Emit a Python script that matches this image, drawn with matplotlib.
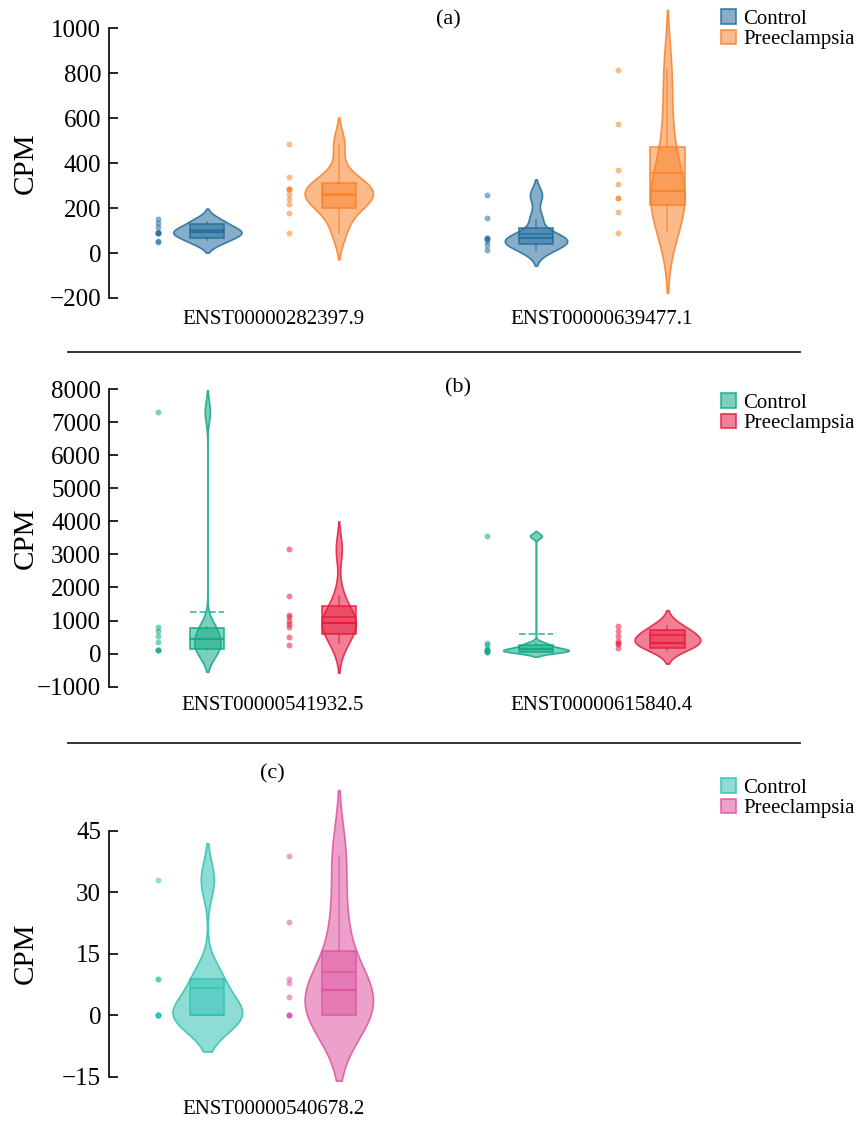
import matplotlib
matplotlib.use("Agg")
import matplotlib.pyplot as plt
import numpy as np
from matplotlib import mlab
from matplotlib.colors import to_rgba
from matplotlib.lines import Line2D
from matplotlib.patches import Patch
from matplotlib.transforms import blended_transform_factory

plt.rcParams["font.family"] = ["Liberation Serif", "DejaVu Serif"]

groups = ["Control", "Preeclampsia"]

# --- data (CPM) ---
# order inside each panel: tx1 control, tx1 PE, tx2 control, tx2 PE
a_transcripts = ["ENST00000282397.9", "ENST00000639477.1"]
a_points = [
    [50, 52, 88, 88, 90, 92, 114, 132, 150],
    [90, 180, 218, 239, 263, 284, 284, 286, 337, 485],
    [13, 36, 53, 62, 65, 68, 154, 258],
    [90, 181, 244, 246, 306, 370, 573, 815],
]
# q1, median, q3, mean, lower whisker, upper whisker
a_box = [(68, 92, 128, 104, 58, 140), (199, 258, 310, 262, 90, 481),
         (40, 68, 110, 83, 13, 147), (214, 277, 474, 355, 95, 815)]
a_ticks = [-200, 0, 200, 400, 600, 800, 1000]

b_transcripts = ["ENST00000541932.5", "ENST00000615840.4"]
b_points = [
    [100, 110, 110, 360, 541, 683, 814, 7315],
    [260, 500, 800, 900, 1000, 1100, 1167, 1750, 3160],
    [58, 62, 80, 100, 120, 150, 250, 311, 3556],
    [178, 290, 330, 390, 532, 683, 834],
]
b_box = [(140, 433, 765, 1267, 100, 814), (593, 934, 1440, 1116, 320, 1750),
         (58, 150, 260, 583, 58, 311), (178, 330, 714, 562, 109, 834)]
b_ticks = [-1000, 0, 1000, 2000, 3000, 4000, 5000, 6000, 7000, 8000]

c_transcripts = ["ENST00000540678.2"]
c_points = [
    [0, 0, 0, 0, 0, 8.7, 8.7, 33],
    [0, 0, 0, 4.3, 7.7, 8.8, 22.8, 38.8],
]
c_box = [(0, 0, 8.7, 6.5, 0, 8.7), (0, 6.1, 15.7, 10.4, 0, 38.8)]
c_ticks = [-15, 0, 15, 30, 45]

# --- styling ---
a_colors = ["#236c9d", "#f9822a"]
b_colors = ["#10a985", "#e8193c"]
c_colors = ["#30c2b2", "#de53a0"]
a_bw = [24, 59, 35, 134]
b_bw = [325, 420, 75, 240]
c_bw = [4.45, 8]
a_halfw = [0.104, 0.104, 0.095, 0.052]
b_halfw = [0.04, 0.052, 0.10, 0.10]
c_halfw = [0.106, 0.104]

W, H = 859, 1121
fig = plt.figure(figsize=(W / 100, H / 100), dpi=100)
left, width = 108.75 / W, 657.25 / W


def draw_panel(rect, ylim, transcripts, points, boxes, bws, halfw, colors, ticks):
    ax = fig.add_axes(rect)
    for i, vals in enumerate(points):
        g, k = divmod(i, 2)
        col = colors[k]
        pos = g + (-0.2 if k == 0 else 0.2)
        v = np.asarray(vals, float)
        bw = bws[i]
        kde = mlab.GaussianKDE(v, bw / v.std(ddof=1))
        ys = np.linspace(v.min() - 2 * bw, v.max() + 2 * bw, 400)
        q1, med, q3, mean, lo, hi = boxes[i]
        st = dict(coords=ys, vals=kde.evaluate(ys), mean=mean, median=med,
                  min=v.min(), max=v.max())
        parts = ax.violin([st], positions=[pos], widths=[2 * halfw[i]],
                          showextrema=False)
        for body in parts["bodies"]:
            body.set_alpha(None)
            body.set_facecolor(to_rgba(col, 0.55))
            body.set_edgecolor(to_rgba(col, 0.85))
            body.set_linewidth(1.2)
        ls = "--" if mean > q3 else "-"
        ax.bxp([dict(q1=q1, med=med, q3=q3, mean=mean, whislo=lo, whishi=hi, fliers=[])],
               positions=[pos], widths=0.104, patch_artist=True, manage_ticks=False,
               showcaps=False, showfliers=False, showmeans=True, meanline=True,
               boxprops=dict(facecolor=to_rgba(col, 0.5), edgecolor=to_rgba(col, 0.85), linewidth=1.2),
               medianprops=dict(color=to_rgba(col, 0.9), linewidth=1.5),
               meanprops=dict(color=to_rgba(col, 0.75), linewidth=1.3, linestyle=ls),
               whiskerprops=dict(color=to_rgba(col, 0.6), linewidth=1.3))
        ax.scatter(np.full(len(v), pos - 0.15), v, s=18, color=col, alpha=0.55, lw=0, zorder=3)

    ax.set_xlim(-0.5, 1.5)
    ax.set_ylim(*ylim)
    ax.set_xticks(range(len(transcripts)))
    ax.set_xticklabels(transcripts)
    ax.set_yticks(ticks)
    for s in ["top", "right", "bottom"]:
        ax.spines[s].set_visible(False)
    ax.spines["left"].set_bounds(ticks[0], ticks[-1])
    ax.spines["left"].set_linewidth(1.2)
    ax.tick_params(axis="y", direction="in", length=6.5, width=1.2, labelsize=18, pad=5.5)
    ax.tick_params(axis="x", length=0, labelsize=15, pad=3)
    ax.set_ylabel("CPM", fontsize=21)
    ax.yaxis.set_label_coords(-0.106, (ticks[0] + ticks[-1]) / 2,
                              transform=blended_transform_factory(ax.transAxes, ax.transData))
    return ax


def add_legend(colors, top):
    handles = [Patch(facecolor=to_rgba(c, 0.55), edgecolor=to_rgba(c, 0.85), linewidth=1.2)
               for c in colors]
    fig.legend(handles, groups, loc="upper left", bbox_to_anchor=(721 / W, top),
               frameon=False, fontsize=15, handlelength=0.7, handleheight=0.7,
               handletextpad=0.35, labelspacing=0.05, borderpad=0, borderaxespad=0)


draw_panel([left, 0.72703, width, 0.26762], (-236, 1100), a_transcripts, a_points,
           a_box, a_bw, a_halfw, a_colors, a_ticks)
draw_panel([left, 0.38269, width, 0.27467], (-1161, 8150), b_transcripts, b_points,
           b_box, b_bw, b_halfw, b_colors, b_ticks)
draw_panel([left, 0.02212, width, 0.27725], (-19.8, 56), c_transcripts, c_points,
           c_box, c_bw, c_halfw, c_colors, c_ticks)

add_legend(a_colors, 1 - 9 / H)
add_legend(b_colors, 1 - 393 / H)
add_legend(c_colors, 1 - 778 / H)

fig.text(448 / W, 1 - 20 / H, "(a)", fontsize=16, ha="center", va="center")
fig.text(458 / W, 1 - 388 / H, "(b)", fontsize=16, ha="center", va="center")
fig.text(272 / W, 1 - 774 / H, "(c)", fontsize=16, ha="center", va="center")

for y in [352, 743]:
    fig.add_artist(Line2D([68 / W, 800 / W], [1 - y / H] * 2, color="#222222", lw=1.3))

fig.savefig("out.png", dpi=100)
